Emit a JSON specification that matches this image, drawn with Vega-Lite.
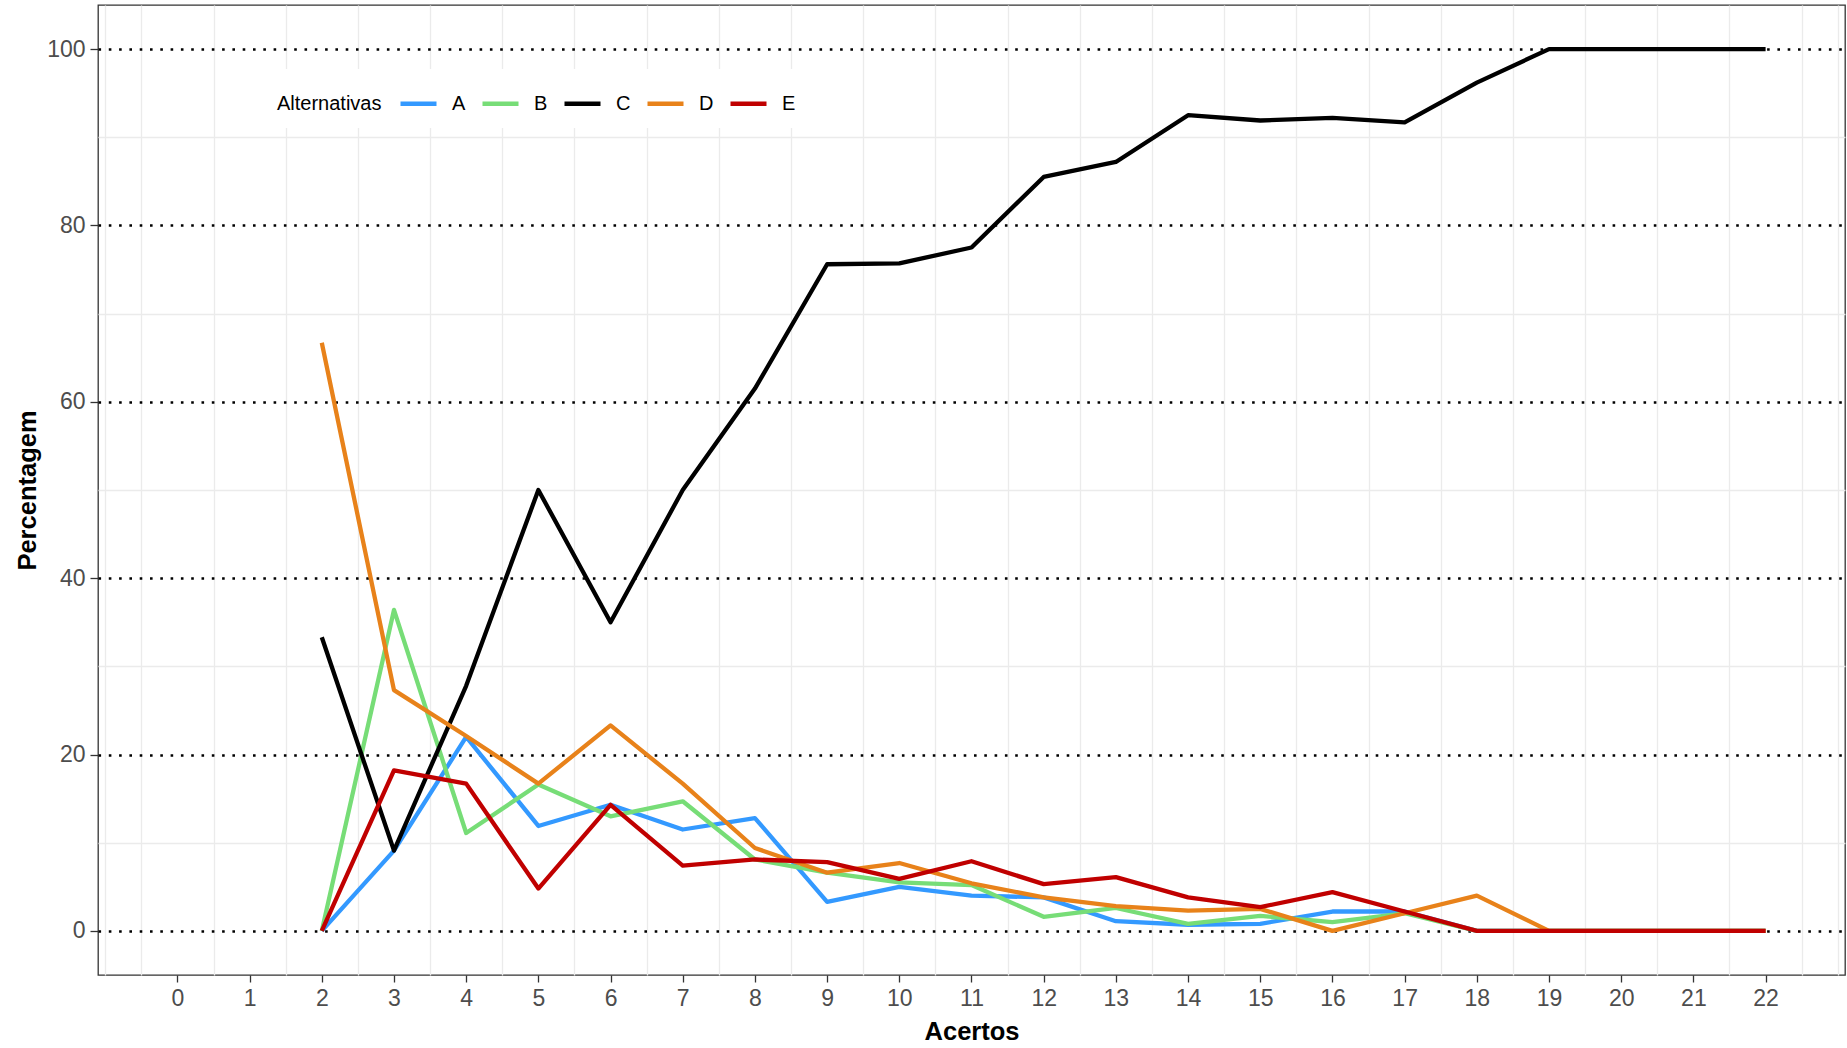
{
  "$schema": "https://vega.github.io/schema/vega-lite/v6.json",
  "autosize": {"type": "none"},
  "width": 1747,
  "height": 970,
  "padding": {"left": 98, "top": 5, "right": 2, "bottom": 73},
  "background": "white",
  "data": {"values": [
    {"acertos": 2, "alt": "A", "pct": 0}, {"acertos": 3, "alt": "A", "pct": 9.1}, {"acertos": 4, "alt": "A", "pct": 22.0}, {"acertos": 5, "alt": "A", "pct": 11.9}, {"acertos": 6, "alt": "A", "pct": 14.3}, {"acertos": 7, "alt": "A", "pct": 11.5}, {"acertos": 8, "alt": "A", "pct": 12.8}, {"acertos": 9, "alt": "A", "pct": 3.3}, {"acertos": 10, "alt": "A", "pct": 5.0}, {"acertos": 11, "alt": "A", "pct": 4.0}, {"acertos": 12, "alt": "A", "pct": 3.8}, {"acertos": 13, "alt": "A", "pct": 1.1}, {"acertos": 14, "alt": "A", "pct": 0.7}, {"acertos": 15, "alt": "A", "pct": 0.8}, {"acertos": 16, "alt": "A", "pct": 2.2}, {"acertos": 17, "alt": "A", "pct": 2.2}, {"acertos": 18, "alt": "A", "pct": 0}, {"acertos": 19, "alt": "A", "pct": 0}, {"acertos": 20, "alt": "A", "pct": 0}, {"acertos": 21, "alt": "A", "pct": 0}, {"acertos": 22, "alt": "A", "pct": 0},
    {"acertos": 2, "alt": "B", "pct": 0}, {"acertos": 3, "alt": "B", "pct": 36.4}, {"acertos": 4, "alt": "B", "pct": 11.1}, {"acertos": 5, "alt": "B", "pct": 16.6}, {"acertos": 6, "alt": "B", "pct": 13.0}, {"acertos": 7, "alt": "B", "pct": 14.7}, {"acertos": 8, "alt": "B", "pct": 8.1}, {"acertos": 9, "alt": "B", "pct": 6.6}, {"acertos": 10, "alt": "B", "pct": 5.5}, {"acertos": 11, "alt": "B", "pct": 5.2}, {"acertos": 12, "alt": "B", "pct": 1.6}, {"acertos": 13, "alt": "B", "pct": 2.6}, {"acertos": 14, "alt": "B", "pct": 0.8}, {"acertos": 15, "alt": "B", "pct": 1.7}, {"acertos": 16, "alt": "B", "pct": 1.0}, {"acertos": 17, "alt": "B", "pct": 2.0}, {"acertos": 18, "alt": "B", "pct": 0}, {"acertos": 19, "alt": "B", "pct": 0}, {"acertos": 20, "alt": "B", "pct": 0}, {"acertos": 21, "alt": "B", "pct": 0}, {"acertos": 22, "alt": "B", "pct": 0},
    {"acertos": 2, "alt": "C", "pct": 33.3}, {"acertos": 3, "alt": "C", "pct": 9.1}, {"acertos": 4, "alt": "C", "pct": 27.8}, {"acertos": 5, "alt": "C", "pct": 50.0}, {"acertos": 6, "alt": "C", "pct": 35.0}, {"acertos": 7, "alt": "C", "pct": 50.0}, {"acertos": 8, "alt": "C", "pct": 61.5}, {"acertos": 9, "alt": "C", "pct": 75.6}, {"acertos": 10, "alt": "C", "pct": 75.7}, {"acertos": 11, "alt": "C", "pct": 77.5}, {"acertos": 12, "alt": "C", "pct": 85.5}, {"acertos": 13, "alt": "C", "pct": 87.2}, {"acertos": 14, "alt": "C", "pct": 92.5}, {"acertos": 15, "alt": "C", "pct": 91.9}, {"acertos": 16, "alt": "C", "pct": 92.2}, {"acertos": 17, "alt": "C", "pct": 91.7}, {"acertos": 18, "alt": "C", "pct": 96.2}, {"acertos": 19, "alt": "C", "pct": 100}, {"acertos": 20, "alt": "C", "pct": 100}, {"acertos": 21, "alt": "C", "pct": 100}, {"acertos": 22, "alt": "C", "pct": 100},
    {"acertos": 2, "alt": "D", "pct": 66.7}, {"acertos": 3, "alt": "D", "pct": 27.3}, {"acertos": 4, "alt": "D", "pct": 22.1}, {"acertos": 5, "alt": "D", "pct": 16.7}, {"acertos": 6, "alt": "D", "pct": 23.3}, {"acertos": 7, "alt": "D", "pct": 16.7}, {"acertos": 8, "alt": "D", "pct": 9.4}, {"acertos": 9, "alt": "D", "pct": 6.6}, {"acertos": 10, "alt": "D", "pct": 7.7}, {"acertos": 11, "alt": "D", "pct": 5.4}, {"acertos": 12, "alt": "D", "pct": 3.8}, {"acertos": 13, "alt": "D", "pct": 2.8}, {"acertos": 14, "alt": "D", "pct": 2.3}, {"acertos": 15, "alt": "D", "pct": 2.5}, {"acertos": 16, "alt": "D", "pct": 0}, {"acertos": 17, "alt": "D", "pct": 2.0}, {"acertos": 18, "alt": "D", "pct": 4.0}, {"acertos": 19, "alt": "D", "pct": 0}, {"acertos": 20, "alt": "D", "pct": 0}, {"acertos": 21, "alt": "D", "pct": 0}, {"acertos": 22, "alt": "D", "pct": 0},
    {"acertos": 2, "alt": "E", "pct": 0}, {"acertos": 3, "alt": "E", "pct": 18.2}, {"acertos": 4, "alt": "E", "pct": 16.7}, {"acertos": 5, "alt": "E", "pct": 4.8}, {"acertos": 6, "alt": "E", "pct": 14.3}, {"acertos": 7, "alt": "E", "pct": 7.4}, {"acertos": 8, "alt": "E", "pct": 8.1}, {"acertos": 9, "alt": "E", "pct": 7.8}, {"acertos": 10, "alt": "E", "pct": 5.9}, {"acertos": 11, "alt": "E", "pct": 7.9}, {"acertos": 12, "alt": "E", "pct": 5.3}, {"acertos": 13, "alt": "E", "pct": 6.1}, {"acertos": 14, "alt": "E", "pct": 3.8}, {"acertos": 15, "alt": "E", "pct": 2.7}, {"acertos": 16, "alt": "E", "pct": 4.4}, {"acertos": 17, "alt": "E", "pct": 2.2}, {"acertos": 18, "alt": "E", "pct": 0}, {"acertos": 19, "alt": "E", "pct": 0}, {"acertos": 20, "alt": "E", "pct": 0}, {"acertos": 21, "alt": "E", "pct": 0}, {"acertos": 22, "alt": "E", "pct": 0}
  ]},
  "layer": [
    {
      "mark": {"type": "line", "opacity": 0},
      "encoding": {
        "x": {"field": "acertos", "type": "quantitative", "scale": {"domain": [-1.1, 23.1], "nice": false, "zero": false},
          "axis": {"orient": "bottom", "values": [-1, -0.5, 0.5, 1.5, 2.5, 3.5, 4.5, 5.5, 6.5, 7.5, 8.5, 9.5, 10.5, 11.5, 12.5, 13.5, 14.5, 15.5, 16.5, 17.5, 18.5, 19.5, 20.5, 21.5, 22.5, 23],
            "grid": true, "gridColor": "#EBEBEB", "gridWidth": 1.3, "labels": false, "ticks": false, "domain": false, "title": null}},
        "y": {"field": "pct", "type": "quantitative", "scale": {"domain": [-5, 105], "nice": false, "zero": false},
          "axis": {"orient": "left", "values": [10, 30, 50, 70, 90], "grid": true, "gridColor": "#EBEBEB", "gridWidth": 1.3, "labels": false, "ticks": false, "domain": false, "title": null}},
        "detail": {"field": "alt"}
      }
    },
    {
      "mark": {"type": "line", "strokeWidth": 4.3, "strokeJoin": "round"},
      "encoding": {
        "x": {"field": "acertos", "type": "quantitative", "scale": {"domain": [-1.1, 23.1], "nice": false, "zero": false},
          "axis": {"orient": "bottom", "values": [0, 1, 2, 3, 4, 5, 6, 7, 8, 9, 10, 11, 12, 13, 14, 15, 16, 17, 18, 19, 20, 21, 22],
            "grid": false, "domain": false, "ticks": true, "tickColor": "#333333", "tickWidth": 1.3, "tickSize": 7,
            "labelFont": "Liberation Sans, Arial, sans-serif", "labelFontSize": 23, "labelColor": "#4D4D4D", "labelPadding": 5,
            "title": "Acertos", "titleFont": "Liberation Sans, Arial, sans-serif", "titleFontSize": 25.5, "titleFontWeight": "bold", "titleColor": "#000000",
            "titleBaseline": "alphabetic", "titleY": 64}},
        "y": {"field": "pct", "type": "quantitative", "scale": {"domain": [-5, 105], "nice": false, "zero": false},
          "axis": {"orient": "left", "values": [0, 20, 40, 60, 80, 100],
            "grid": true, "gridColor": "#000000", "gridWidth": 2.6, "gridDash": [2.6, 7.7],
            "domain": false, "ticks": true, "tickColor": "#333333", "tickWidth": 1.3, "tickSize": 8,
            "labelFont": "Liberation Sans, Arial, sans-serif", "labelFontSize": 23, "labelColor": "#4D4D4D", "labelPadding": 5,
            "title": "Percentagem", "titleFont": "Liberation Sans, Arial, sans-serif", "titleFontSize": 25.5, "titleFontWeight": "bold", "titleColor": "#000000",
            "titleBaseline": "alphabetic", "titleX": -63}},
        "color": {"field": "alt", "type": "nominal",
          "scale": {"domain": ["A", "B", "C", "D", "E"], "range": ["#3399FF", "#77DD77", "#000000", "#E8821A", "#C00000"]},
          "legend": {"title": "Alternativas", "orient": "none", "legendX": 165, "legendY": 64, "direction": "horizontal",
            "titleOrient": "left", "titleAnchor": "middle", "titleBaseline": "line-top", "titleLineHeight": 12, "titleFont": "Liberation Sans, Arial, sans-serif", "titleFontSize": 20, "titleFontWeight": "normal", "titleColor": "#000000", "titlePadding": 16,
            "labelFont": "Liberation Sans, Arial, sans-serif", "labelFontSize": 20, "labelColor": "#000000", "labelOffset": 13, "columnPadding": 7,
            "symbolType": "stroke", "symbolSize": 1296, "symbolStrokeWidth": 4.5, "padding": 14, "fillColor": "white", "strokeColor": null}}
      }
    }
  ],
  "resolve": {"axis": {"x": "independent", "y": "independent"}},
  "config": {"view": {"stroke": "#333333", "strokeWidth": 1.3}}
}
